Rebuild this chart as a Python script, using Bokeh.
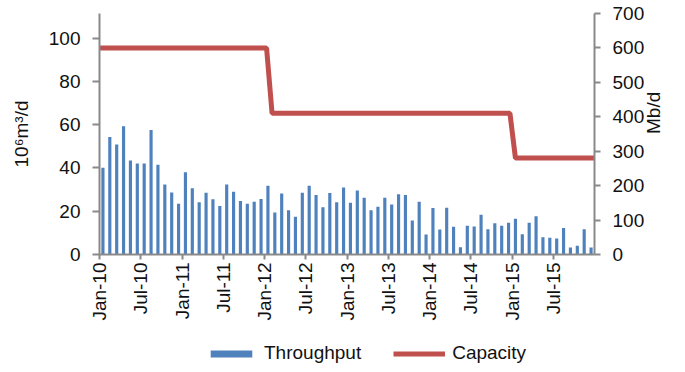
from math import pi
from bokeh.plotting import figure
from bokeh.layouts import column
from bokeh.models import Range1d, LinearAxis, FixedTicker, Legend, LegendItem
from bokeh.embed import file_html
from bokeh.resources import INLINE

# ---- data ----
throughput = [40.1, 54.3, 50.8, 59.3, 43.5, 42.1, 42.1, 57.6, 41.5, 32.4, 28.7, 23.5,
              38.0, 30.6, 24.2, 28.5, 25.5, 22.4, 32.4, 29.0, 24.7, 23.5, 24.4, 25.6,
              31.8, 19.4, 28.2, 20.4, 17.4, 28.5, 31.8, 27.5, 21.8, 28.4, 24.2, 31.0,
              23.9, 29.6, 26.2, 20.4, 22.1, 26.2, 23.1, 27.8, 27.5, 15.7, 24.4, 9.3,
              21.5, 11.6, 21.6, 12.8, 3.4, 13.3, 13.0, 18.4, 11.7, 14.4, 13.3, 14.7,
              16.5, 9.4, 14.7, 17.7, 8.0, 7.7, 7.4, 12.2, 3.2, 4.0, 11.7, 3.2]
capacity_month = [0, 24.3, 25.1, 59.7, 60.5, 72]
capacity_mbd = [600, 600, 410, 410, 280, 280]
tick_months = [0, 6, 12, 18, 24, 30, 36, 42, 48, 54, 60, 66]
tick_labels = ["Jan-10", "Jul-10", "Jan-11", "Jul-11", "Jan-12", "Jul-12",
               "Jan-13", "Jul-13", "Jan-14", "Jul-14", "Jan-15", "Jul-15"]
left_ticks = [0, 20, 40, 60, 80, 100]
right_ticks = [0, 100, 200, 300, 400, 500, 600, 700]

FONT = "Liberation Sans"
FS = "19px"
AXC = "#898989"
TXT = "#111111"
BAR_C = "#4F81BD"
LINE_C = "#C0504D"

bar_x = [i + 0.5 for i in range(len(throughput))]

W = 677
H_MAIN = 330
H_LEG = 34
BL, BR, BT, BB = 99, 78, 13, H_MAIN - 254

p = figure(width=W, height=H_MAIN, output_backend="svg", toolbar_location=None,
           x_range=Range1d(0, 72), y_range=Range1d(0, 111.4),
           min_border_left=BL, min_border_right=BR, min_border_top=BT, min_border_bottom=BB)
p.extra_y_ranges = {"cap": Range1d(0, 700)}
p.outline_line_color = None
p.xgrid.visible = False
p.ygrid.visible = False

p.vbar(x=bar_x, top=throughput, width=0.46, color=BAR_C, line_color=None)
p.line(capacity_month, capacity_mbd, y_range_name="cap", line_color=LINE_C, line_width=5)

right = LinearAxis(y_range_name="cap")
p.add_layout(right, "right")

for ax in [p.xaxis[0], p.yaxis[0], right]:
    ax.axis_line_color = AXC
    ax.axis_line_width = 2
    ax.major_tick_line_color = AXC
    ax.major_tick_line_width = 2
    ax.minor_tick_line_color = None
    ax.major_tick_in = 0
    ax.major_label_text_font = FONT
    ax.major_label_text_font_size = FS
    ax.major_label_text_color = TXT
    ax.axis_label_text_font = FONT
    ax.axis_label_text_font_size = FS
    ax.axis_label_text_font_style = "normal"
    ax.axis_label_text_color = TXT

p.xaxis.ticker = FixedTicker(ticks=tick_months)
p.xaxis.major_label_overrides = {t: l for t, l in zip(tick_months, tick_labels)}
p.xaxis.major_label_orientation = pi / 2
p.xaxis.major_tick_out = 5
p.xaxis.major_label_standoff = 3

p.yaxis[0].ticker = FixedTicker(ticks=left_ticks)
p.yaxis[0].major_tick_out = 7
p.yaxis[0].major_label_standoff = 12
p.yaxis[0].axis_label = "10⁶m³/d"
p.yaxis[0].axis_label_standoff = 14

right.ticker = FixedTicker(ticks=right_ticks)
right.major_tick_out = 6
right.major_label_standoff = 12
right.axis_label = "Mb/d"
right.axis_label_standoff = 6
if "axis_label_orientation" in LinearAxis.properties():
    right.axis_label_orientation = pi / 2

# ---- legend strip (same series, drawn out of view so only the legend shows) ----
lf = figure(width=W, height=H_LEG, output_backend="svg", toolbar_location=None,
            x_range=Range1d(1000, 1001), y_range=Range1d(1000, 1001),
            x_axis_type=None, y_axis_type=None, min_border=0)
lf.outline_line_color = None
lf.xgrid.visible = False
lf.ygrid.visible = False
lb = lf.vbar(x=bar_x, top=throughput, width=0.46, color=BAR_C, line_color=None)
ll = lf.line(capacity_month, capacity_mbd, line_color=LINE_C, line_width=5)
legend = Legend(items=[LegendItem(label="Throughput", renderers=[lb]),
                       LegendItem(label="Capacity", renderers=[ll])],
                orientation="horizontal", location=(106, 0),
                glyph_width=52, glyph_height=9, label_standoff=7, spacing=32,
                label_text_font=FONT, label_text_font_size=FS, label_text_color=TXT,
                border_line_color=None, background_fill_alpha=0, padding=0, margin=0)
lf.add_layout(legend, "center")

layout = column(p, lf, spacing=0)
open("out.html", "w").write(file_html(layout, INLINE))
